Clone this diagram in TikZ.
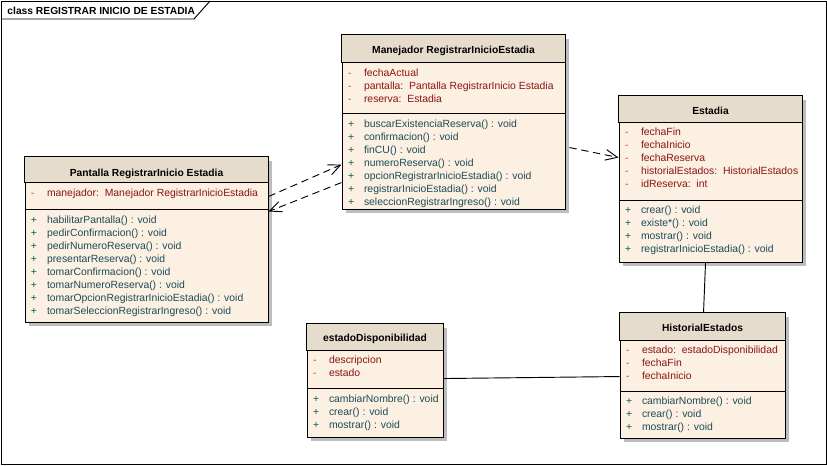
\documentclass[tikz,border=0pt]{standalone}
\usepackage{fontspec}
\setmainfont{Liberation Sans}
\usetikzlibrary{arrows.meta,shadows,fit,calc}
\definecolor{boxfill}{HTML}{FBF0E1}
\definecolor{hdrfill}{HTML}{E6DCCC}
\definecolor{attrtext}{HTML}{8B1414}
\definecolor{attrsign}{HTML}{D0441C}
\definecolor{optext}{HTML}{1D4B5A}
\definecolor{opsign}{HTML}{0E5A52}
\definecolor{shadowgray}{HTML}{BDBDBD}

\begin{document}
\begin{tikzpicture}[x=0.75pt,y=-0.75pt,line width=0.7pt,
    every node/.style={inner sep=0pt,font=\fontsize{7.8}{9}\selectfont},
    classbox/.style={draw,fill=boxfill,
        drop shadow={shadow xshift=3pt,shadow yshift=-3pt,fill=shadowgray,opacity=1}},
    header/.style={draw,fill=hdrfill},
    title/.style={anchor=base,font=\fontsize{7.7}{9}\selectfont\bfseries},
    attr/.style={anchor=base west,text=attrtext},
    minus/.style={anchor=base west,text=attrsign},
    op/.style={anchor=base west,text=optext},
    plus/.style={anchor=base west,text=opsign},
    dep/.style={draw,dash pattern=on 5.5pt off 3.5pt,-{Straight Barb[length=9pt,width=8pt]}}]

    \useasboundingbox (0,0) rectangle (827,465);
    % frame and its tab
    \draw[fill=white] (1,1) rectangle (826,464);
    \draw (1,19) -- (194,19) -- (210,1);
    \node[anchor=base west,font=\fontsize{7.7}{9}\selectfont\bfseries] (frametitle) at (7,14) {class REGISTRAR INICIO DE ESTADIA};

    % Pantalla RegistrarInicio Estadia
    \node[classbox,fit={(25,157) (268,322)}] (pantalla) {};
    \filldraw[header] (pantalla.north west) rectangle ($(pantalla.north east)+(0,26)$);
    \draw ($(pantalla.north west)+(0,53)$) -- ($(pantalla.north east)+(0,53)$);
    \node[title] (pantallatitle) at ($(pantalla.north)+(0,20)$) {Pantalla RegistrarInicio Estadia};
    \foreach \t [count=\i] in {manejador:\ \ Manejador RegistrarInicioEstadia}
        {\node[minus] at ($(pantalla.north west)+(6,26.5+13*\i)$) {-};
         \node[attr] at ($(pantalla.north west)+(22,26.5+13*\i)$) {\t};}
    \foreach \t [count=\i] in {habilitarPantalla() : void,pedirConfirmacion() : void,
        pedirNumeroReserva() : void,presentarReserva() : void,tomarConfirmacion() : void,
        tomarNumeroReserva() : void,tomarOpcionRegistrarInicioEstadia() : void,
        tomarSeleccionRegistrarIngreso() : void}
        {\node[plus] at ($(pantalla.north west)+(6,53.5+13*\i)$) {+};
         \node[op] at ($(pantalla.north west)+(22,53.5+13*\i)$) {\t};}

    % Manejador RegistrarInicioEstadia
    \node[classbox,fit={(342,35) (565,209)}] (manejador) {};
    \filldraw[header] (manejador.north west) rectangle ($(manejador.north east)+(0,28)$);
    \draw ($(manejador.north west)+(0,79)$) -- ($(manejador.north east)+(0,79)$);
    \node[title] (manejadortitle) at ($(manejador.north)+(0,19)$) {Manejador RegistrarInicioEstadia};
    \foreach \t [count=\i] in {fechaActual,pantalla:\ \ Pantalla RegistrarInicio Estadia,reserva:\ \ Estadia}
        {\node[minus] at ($(manejador.north west)+(6,28.5+13*\i)$) {-};
         \node[attr] at ($(manejador.north west)+(22,28.5+13*\i)$) {\t};}
    \foreach \t [count=\i] in {buscarExistenciaReserva() : void,confirmacion() : void,
        finCU() : void,numeroReserva() : void,opcionRegistrarInicioEstadia() : void,
        registrarInicioEstadia() : void,seleccionRegistrarIngreso() : void}
        {\node[plus] at ($(manejador.north west)+(6,79.5+13*\i)$) {+};
         \node[op] at ($(manejador.north west)+(22,79.5+13*\i)$) {\t};}

    % Estadia
    \node[classbox,fit={(619,96) (802,262)}] (estadia) {};
    \filldraw[header] (estadia.north west) rectangle ($(estadia.north east)+(0,27)$);
    \draw ($(estadia.north west)+(0,105)$) -- ($(estadia.north east)+(0,105)$);
    \node[title] (estadiatitle) at ($(estadia.north)+(0,19)$) {Estadia};
    \foreach \t [count=\i] in {fechaFin,fechaInicio,fechaReserva,
        historialEstados:\ \ HistorialEstados,idReserva:\ \ int}
        {\node[minus] at ($(estadia.north west)+(6,27+13*\i)$) {-};
         \node[attr] at ($(estadia.north west)+(22,27+13*\i)$) {\t};}
    \foreach \t [count=\i] in {crear() : void,existe*() : void,mostrar() : void,
        registrarInicioEstadia() : void}
        {\node[plus] at ($(estadia.north west)+(6,105.3+13*\i)$) {+};
         \node[op] at ($(estadia.north west)+(22,105.3+13*\i)$) {\t};}

    % estadoDisponibilidad
    \node[classbox,fit={(307,324) (443,437)}] (estado) {};
    \filldraw[header] (estado.north west) rectangle ($(estado.north east)+(0,27)$);
    \draw ($(estado.north west)+(0,65)$) -- ($(estado.north east)+(0,65)$);
    \node[title] (estadotitle) at ($(estado.north)+(0,17.5)$) {estadoDisponibilidad};
    \foreach \t [count=\i] in {descripcion,estado}
        {\node[minus] at ($(estado.north west)+(6,27+13*\i)$) {-};
         \node[attr] at ($(estado.north west)+(22,27+13*\i)$) {\t};}
    \foreach \t [count=\i] in {cambiarNombre() : void,crear() : void,mostrar() : void}
        {\node[plus] at ($(estado.north west)+(6,65.5+13*\i)$) {+};
         \node[op] at ($(estado.north west)+(22,65.5+13*\i)$) {\t};}

    % HistorialEstados
    \node[classbox,fit={(620,313) (785,438)}] (historial) {};
    \filldraw[header] (historial.north west) rectangle ($(historial.north east)+(0,28)$);
    \draw ($(historial.north west)+(0,79)$) -- ($(historial.north east)+(0,79)$);
    \node[title] (historialtitle) at ($(historial.north)+(0,19)$) {HistorialEstados};
    \foreach \t [count=\i] in {estado:\ \ estadoDisponibilidad,fechaFin,fechaInicio}
        {\node[minus] at ($(historial.north west)+(6,27.5+13*\i)$) {-};
         \node[attr] at ($(historial.north west)+(22,27.5+13*\i)$) {\t};}
    \foreach \t [count=\i] in {cambiarNombre() : void,crear() : void,mostrar() : void}
        {\node[plus] at ($(historial.north west)+(6,79+13*\i)$) {+};
         \node[op] at ($(historial.north west)+(22,79+13*\i)$) {\t};}

    % connectors
    \path[dep] ($(pantalla.north east)+(0,40)$) -- ($(manejador.north west)+(0,130)$);
    \path[dep] ($(manejador.north west)+(0,148)$) -- ($(pantalla.north east)+(0,55)$);
    \path[dep] ($(manejador.north east)+(4,113)$) -- ($(estadia.north west)+(0,62)$);
    \draw ($(estadia.south west)+(87,0)$) -- ($(historial.north west)+(84,0)$);
    \draw ($(estado.north east)+(0,55)$) -- ($(historial.north west)+(0,64)$);
\end{tikzpicture}
\end{document}
